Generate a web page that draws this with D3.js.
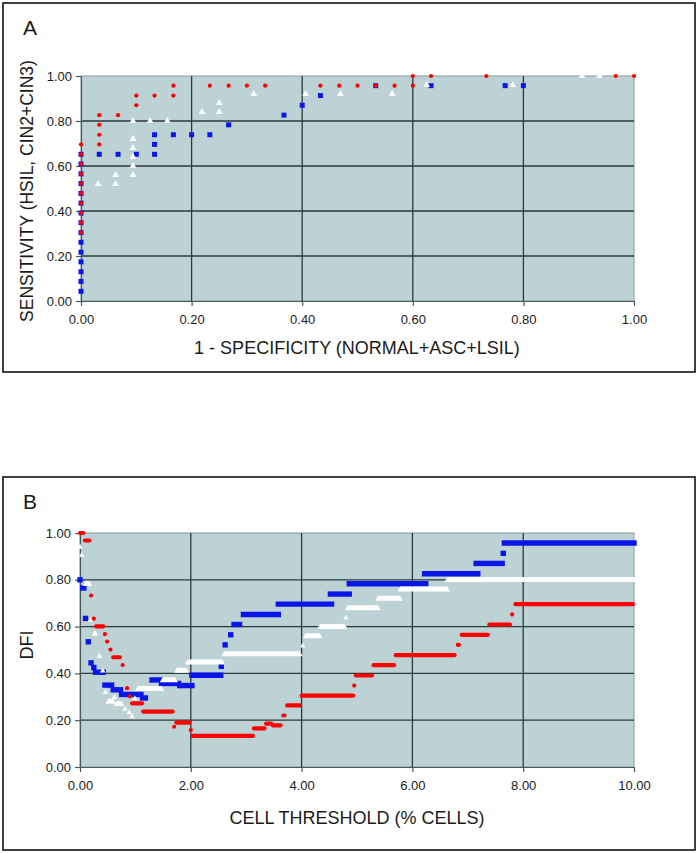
<!DOCTYPE html>
<html>
<head>
<meta charset="utf-8">
<script src="https://cdn.jsdelivr.net/npm/d3@7"></script>
<style>
  body { margin: 0; background: #fff; }
  text { font-family: "Liberation Sans", Arial, sans-serif; fill: #1b1b1b; }
</style>
</head>
<body>
<svg id="chart"></svg>
<script>
// ---- Panel A : ROC points [1-specificity, sensitivity] ----
const rocRed = [
  [0, 0.304], [0, 0.348], [0, 0.391], [0, 0.435], [0, 0.478], [0, 0.522], [0, 0.565], [0, 0.609], [0, 0.652], [0, 0.696],
  [0.033, 0.696], [0.033, 0.739], [0.033, 0.783], [0.033, 0.826], [0.067, 0.826],
  [0.1, 0.870], [0.1, 0.913], [0.133, 0.913], [0.167, 0.913], [0.167, 0.957],
  [0.233, 0.957], [0.267, 0.957], [0.3, 0.957], [0.333, 0.957],
  [0.433, 0.957], [0.467, 0.957], [0.5, 0.957], [0.533, 0.957], [0.567, 0.957], [0.6, 0.957],
  [0.6, 1], [0.633, 1], [0.733, 1], [0.967, 1], [1, 1]
];
const rocBlue = [
  [0, 0.043], [0, 0.087], [0, 0.13], [0, 0.174], [0, 0.217], [0, 0.261], [0, 0.304], [0, 0.348], [0, 0.391],
  [0, 0.435], [0, 0.478], [0, 0.522], [0, 0.565], [0, 0.609], [0, 0.652],
  [0.033, 0.652], [0.067, 0.652], [0.1, 0.652], [0.133, 0.652], [0.133, 0.696], [0.133, 0.739],
  [0.167, 0.739], [0.2, 0.739], [0.233, 0.739], [0.267, 0.783], [0.367, 0.826], [0.4, 0.870], [0.433, 0.913],
  [0.533, 0.957], [0.633, 0.957], [0.767, 0.957], [0.8, 0.957]
];
const rocWhite = [
  [0.031, 0.52], [0.0625, 0.52], [0.0625, 0.56],
  [0.094, 0.56], [0.094, 0.60], [0.094, 0.64], [0.094, 0.68], [0.094, 0.72], [0.094, 0.80],
  [0.125, 0.80], [0.156, 0.80], [0.219, 0.84], [0.25, 0.84], [0.25, 0.88],
  [0.3125, 0.92], [0.406, 0.92], [0.469, 0.92], [0.5625, 0.92],
  [0.625, 0.96], [0.781, 0.96], [0.906, 1], [0.9375, 1]
];
const rocTicks = [0, 0.2, 0.4, 0.6, 0.8, 1];

// ---- Panel B : DFI runs [threshold from, threshold to, DFI] ----
const dfiBlue = [
  [0, 0, 0.80], [0.05, 0.07, 0.765], [0.1, 0.1, 0.635], [0.15, 0.15, 0.535], [0.2, 0.2, 0.445],
  [0.25, 0.25, 0.425], [0.28, 0.42, 0.405], [0.45, 0.57, 0.35], [0.6, 0.73, 0.33], [0.75, 1.1, 0.31],
  [1.13, 1.18, 0.295], [1.3, 1.45, 0.372], [1.47, 1.78, 0.357], [1.8, 2.02, 0.348], [2.02, 2.54, 0.392],
  [2.55, 2.55, 0.43], [2.62, 2.62, 0.522], [2.72, 2.72, 0.565], [2.78, 2.88, 0.609], [2.95, 3.58, 0.652],
  [3.58, 4.54, 0.696], [4.52, 4.86, 0.739], [4.86, 6.24, 0.783], [6.22, 7.18, 0.826], [7.15, 7.62, 0.870],
  [7.64, 7.64, 0.913], [7.66, 10, 0.957]
];
const dfiWhite = [
  [0, 0, 0.943], [0.03, 0.03, 0.907], [0.1, 0.17, 0.783], [0.19, 0.19, 0.63], [0.26, 0.28, 0.572],
  [0.35, 0.35, 0.476], [0.41, 0.41, 0.414], [0.46, 0.46, 0.322], [0.51, 0.6, 0.28], [0.62, 0.62, 0.3],
  [0.66, 0.75, 0.27], [0.81, 0.81, 0.25], [0.89, 0.89, 0.235], [0.94, 0.94, 0.218], [0.99, 0.99, 0.295],
  [1.04, 1.47, 0.335], [1.49, 1.72, 0.372], [1.75, 1.92, 0.413], [1.94, 2.57, 0.448], [2.6, 3.97, 0.483],
  [4.02, 4.02, 0.52], [4.07, 4.33, 0.56], [4.33, 4.78, 0.60], [4.8, 4.8, 0.64], [4.83, 5.38, 0.68],
  [5.38, 5.78, 0.72], [5.78, 6.63, 0.76], [6.63, 10, 0.80]
];
const dfiRed = [
  [0, 0.06, 1.0], [0.09, 0.17, 0.968], [0.2, 0.2, 0.733], [0.25, 0.25, 0.634], [0.29, 0.42, 0.601],
  [0.45, 0.45, 0.568], [0.49, 0.49, 0.536], [0.55, 0.55, 0.502], [0.6, 0.72, 0.469], [0.77, 0.77, 0.436],
  [0.85, 0.85, 0.337], [0.9, 0.9, 0.302], [0.94, 1.12, 0.272], [1.14, 1.67, 0.237], [1.7, 1.7, 0.172],
  [1.74, 1.98, 0.19], [2.0, 2.0, 0.158], [2.03, 3.12, 0.133], [3.14, 3.33, 0.165], [3.36, 3.45, 0.185],
  [3.48, 3.62, 0.178], [3.67, 3.69, 0.22], [3.74, 3.97, 0.263], [4.0, 4.93, 0.305], [4.95, 4.95, 0.348],
  [4.98, 5.27, 0.391], [5.3, 5.67, 0.435], [5.7, 6.76, 0.478], [6.82, 6.84, 0.522], [6.89, 7.36, 0.565],
  [7.39, 7.76, 0.609], [7.8, 7.8, 0.652], [7.86, 9.98, 0.696]
];
const dfiXTicks = [0, 2, 4, 6, 8, 10];
const dfiYTicks = [0, 0.2, 0.4, 0.6, 0.8, 1];

const RED = '#ff0000', BLUE = '#0a16e8', PLOT_BG = '#bcd2d4', GRID = '#2a3b3c';
const fmt = d3.format('.2f');

const svg = d3.select('#chart').attr('width', 698).attr('height', 853);

function panel(cfg) {
  const g = svg.append('g');
  g.append('rect').attr('x', cfg.box[0]).attr('y', cfg.box[1]).attr('width', cfg.box[2]).attr('height', cfg.box[3])
    .attr('fill', 'none').attr('stroke', '#111').attr('stroke-width', 1.6);
  g.append('text').attr('x', cfg.box[0] + 20).attr('y', cfg.box[1] + 32).attr('font-size', 21).text(cfg.letter);

  const x = d3.scaleLinear().domain(cfg.xDomain).range(cfg.xRange);
  const y = d3.scaleLinear().domain([0, 1]).range(cfg.yRange);

  g.append('rect').attr('x', cfg.xRange[0]).attr('y', cfg.yRange[1])
    .attr('width', cfg.xRange[1] - cfg.xRange[0]).attr('height', cfg.yRange[0] - cfg.yRange[1])
    .attr('fill', PLOT_BG).attr('stroke', '#8a9c9e').attr('stroke-width', 1);

  // grid
  g.append('g').selectAll('line').data(cfg.yTicks.slice(1, -1)).join('line')
    .attr('x1', cfg.xRange[0]).attr('x2', cfg.xRange[1]).attr('y1', d => y(d)).attr('y2', d => y(d))
    .attr('stroke', GRID).attr('stroke-width', 1.3);
  g.append('g').selectAll('line').data(cfg.xTicks.slice(1, -1)).join('line')
    .attr('y1', cfg.yRange[0]).attr('y2', cfg.yRange[1]).attr('x1', d => x(d)).attr('x2', d => x(d))
    .attr('stroke', GRID).attr('stroke-width', 1.3);

  const yAxis = g.append('g').attr('transform', `translate(${cfg.xRange[0]},0)`)
    .call(d3.axisLeft(y).tickValues(cfg.yTicks).tickFormat(fmt).tickSize(5).tickSizeOuter(0).tickPadding(4));
  const xAxis = g.append('g').attr('transform', `translate(0,${cfg.yRange[0]})`)
    .call(d3.axisBottom(x).tickValues(cfg.xTicks).tickFormat(cfg.xFormat).tickSize(5).tickSizeOuter(0).tickPadding(9));
  [yAxis, xAxis].forEach(a => {
    a.selectAll('path,line').attr('stroke', '#4a5a5b').attr('stroke-width', 1.2);
    a.selectAll('text').attr('font-size', 13).attr('fill', '#1b1b1b').style('font-family', '"Liberation Sans", Arial, sans-serif');
  });

  g.append('text').attr('text-anchor', 'middle').attr('font-size', 18)
    .attr('x', cfg.xTitlePos[0]).attr('y', cfg.xTitlePos[1]).text(cfg.xTitle);
  g.append('text').attr('text-anchor', 'middle').attr('font-size', cfg.yTitleSize || 18)
    .attr('transform', `translate(${cfg.yTitlePos[0]},${cfg.yTitlePos[1]}) rotate(-90)`).text(cfg.yTitle);

  return {g, x, y};
}

// ---------- Panel A ----------
const A = panel({
  box: [3, 3, 692, 369], letter: 'A',
  xDomain: [0, 1], xRange: [81, 634], yRange: [301, 76],
  xTicks: rocTicks, yTicks: rocTicks, xFormat: fmt,
  xTitle: '1 - SPECIFICITY (NORMAL+ASC+LSIL)', xTitlePos: [357, 354],
  yTitle: 'SENSITIVITY (HSIL, CIN2+CIN3)', yTitlePos: [33, 191], yTitleSize: 17.5
});
A.g.append('g').selectAll('rect').data(rocBlue).join('rect')
  .attr('x', d => A.x(d[0]) - 2.5).attr('y', d => A.y(d[1]) - 2.5).attr('width', 5).attr('height', 5)
  .attr('fill', BLUE);
A.g.append('g').selectAll('path').data(rocWhite).join('path')
  .attr('transform', d => `translate(${A.x(d[0])},${A.y(d[1])})`)
  .attr('d', d3.symbol(d3.symbolTriangle, 20)).attr('fill', '#fff');
A.g.append('g').selectAll('circle').data(rocRed).join('circle')
  .attr('cx', d => A.x(d[0])).attr('cy', d => A.y(d[1])).attr('r', 2.1).attr('fill', RED);

// ---------- Panel B ----------
const B = panel({
  box: [3, 477, 692, 373], letter: 'B',
  xDomain: [0, 10], xRange: [80, 634], yRange: [767, 533],
  xTicks: dfiXTicks, yTicks: dfiYTicks, xFormat: fmt,
  xTitle: 'CELL THRESHOLD (% CELLS)', xTitlePos: [357, 824],
  yTitle: 'DFI', yTitlePos: [33, 645]
});
B.g.append('g').selectAll('line').data(dfiBlue).join('line')
  .attr('x1', d => B.x(d[0])).attr('x2', d => B.x(d[1])).attr('y1', d => B.y(d[2])).attr('y2', d => B.y(d[2]))
  .attr('stroke', BLUE).attr('stroke-width', 5.4).attr('stroke-linecap', 'square');
B.g.append('g').selectAll('path').data(dfiWhite).join('path')
  .attr('d', d => {
    const x0 = B.x(d[0]), x1 = B.x(d[1]), yy = B.y(d[2]);
    return `M${x0 - 2.7},${yy + 2.3}L${x1 + 2.7},${yy + 2.3}L${x1},${yy - 2.7}L${x0},${yy - 2.7}Z`;
  })
  .attr('fill', '#fff');
B.g.append('g').selectAll('line').data(dfiRed).join('line')
  .attr('x1', d => B.x(d[0])).attr('x2', d => B.x(d[1])).attr('y1', d => B.y(d[2])).attr('y2', d => B.y(d[2]))
  .attr('stroke', RED).attr('stroke-width', 4.2).attr('stroke-linecap', 'round');
</script>
</body>
</html>
